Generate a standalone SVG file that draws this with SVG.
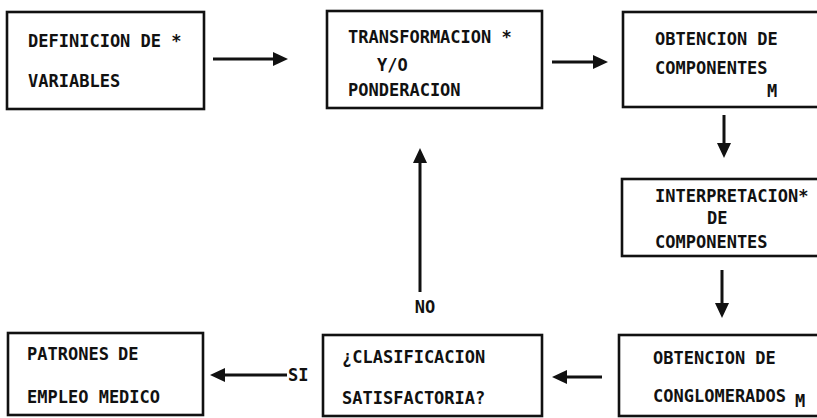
<svg xmlns="http://www.w3.org/2000/svg" width="817" height="418" viewBox="0 0 817 418">
<style>
.box{fill:#fff;stroke:#111;stroke-width:2.6}
.t{font-family:"DejaVu Sans Mono","Liberation Mono",monospace;font-size:17px;font-weight:bold;fill:#111}
.c{stroke:#111;stroke-width:3;fill:none}
</style>
<defs>
<marker id="ah" viewBox="0 0 15 14" refX="5" refY="7" markerWidth="15" markerHeight="14" markerUnits="userSpaceOnUse" orient="auto">
<path d="M0,0 L15,7 L0,14 z" fill="#111"/>
</marker>
</defs>
<rect width="817" height="418" fill="#fff"/>
<g id="n1">
<rect class="box" x="7" y="12" width="197" height="97"/>
<text class="t" x="28" y="47">DEFINICION DE *</text>
<text class="t" x="28" y="87">VARIABLES</text>
</g>
<g id="n2">
<rect class="box" x="327" y="11" width="215" height="97"/>
<text class="t" x="348" y="43">TRANSFORMACION *</text>
<text class="t" x="377" y="71">Y/O</text>
<text class="t" x="348" y="96">PONDERACION</text>
</g>
<g id="n3">
<rect class="box" x="623" y="12" width="210" height="95"/>
<text class="t" x="655" y="45">OBTENCION DE</text>
<text class="t" x="655" y="74">COMPONENTES</text>
<text class="t" x="767" y="97">M</text>
</g>
<g id="n4">
<rect class="box" x="622" y="179" width="210" height="77"/>
<text class="t" x="655" y="202">INTERPRETACION*</text>
<text class="t" x="707" y="224">DE</text>
<text class="t" x="655" y="248">COMPONENTES</text>
</g>
<g id="n5">
<rect class="box" x="619" y="335" width="210" height="81"/>
<text class="t" x="653" y="364">OBTENCION DE</text>
<text class="t" x="653" y="402">CONGLOMERADOS</text>
<text class="t" x="795" y="407">M</text>
</g>
<g id="n6">
<rect class="box" x="323" y="335" width="219" height="81"/>
<text class="t" x="342" y="363">¿CLASIFICACION</text>
<text class="t" x="342" y="404">SATISFACTORIA?</text>
</g>
<g id="n7">
<rect class="box" x="8" y="333" width="195" height="82"/>
<text class="t" x="27" y="360">PATRONES</text>
<text class="t" x="118" y="360">DE</text>
<text class="t" x="27" y="403">EMPLEO MEDICO</text>
</g>
<g id="connectors">
<line class="c" x1="213" y1="59" x2="278" y2="59" marker-end="url(#ah)"/>
<line class="c" x1="552" y1="62" x2="598" y2="62" marker-end="url(#ah)"/>
<line class="c" x1="724" y1="115" x2="724" y2="148" marker-end="url(#ah)"/>
<line class="c" x1="722" y1="270" x2="722" y2="308" marker-end="url(#ah)"/>
<line class="c" x1="602" y1="377" x2="562" y2="377" marker-end="url(#ah)"/>
<line class="c" x1="287" y1="375" x2="220" y2="375" marker-end="url(#ah)"/>
<line class="c" x1="420" y1="292" x2="420" y2="158" marker-end="url(#ah)"/>
<text class="t" x="425" y="313" text-anchor="middle">NO</text>
<text class="t" x="288" y="381">SI</text>
</g>
</svg>
